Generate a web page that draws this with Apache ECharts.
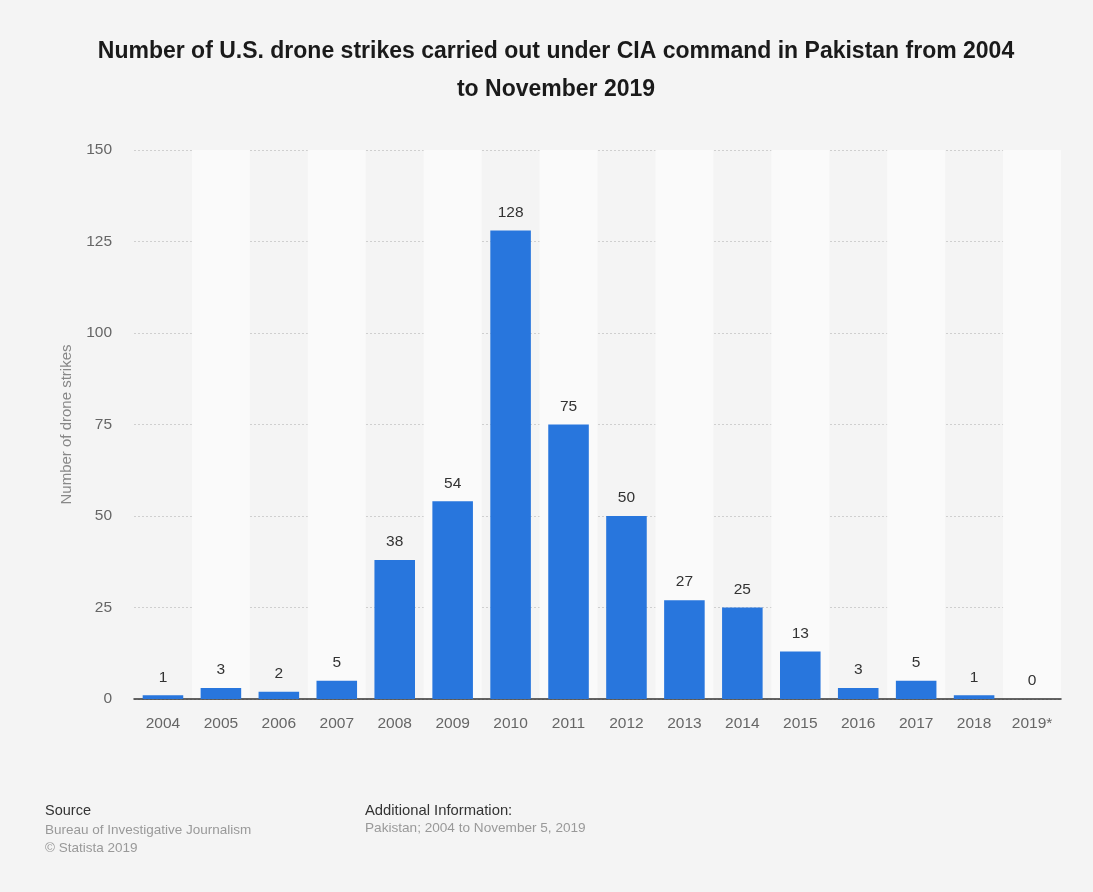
<!DOCTYPE html>
<html><head><meta charset="utf-8">
<script src="https://cdn.jsdelivr.net/npm/echarts@6/dist/echarts.min.js"></script>
<style>html,body{margin:0;padding:0;background:#f4f4f4;}#c{width:1093px;height:892px;}</style>
</head><body><div id="c"></div>
<script>
const categories = ['2004','2005','2006','2007','2008','2009','2010','2011','2012','2013','2014','2015','2016','2017','2018','2019*'];
const strikes = [1,3,2,5,38,54,128,75,50,27,25,13,3,5,1,0];
const yTicks = [0,25,50,75,100,125,150];
const font = '"Liberation Sans", Arial, Helvetica, sans-serif';
const chart = echarts.init(document.getElementById('c'));
chart.setOption({
  backgroundColor: '#f4f4f4',
  animation: false,
  textStyle: {fontFamily: font},
  title: [
    {text: 'Number of U.S. drone strikes carried out under CIA command in Pakistan from 2004\nto November 2019',
     left: 556, top: 33, textAlign: 'center', padding: 0,
     textStyle: {fontFamily: font, fontSize: 23, fontWeight: 'bold', color: '#1a1a1a', lineHeight: 38}},
    {text: 'Source', left: 45, top: 803, padding: 0, textStyle: {fontFamily: font, fontSize: 14.5, fontWeight: 'normal', color: '#333'}},
    {text: 'Bureau of Investigative Journalism\n© Statista 2019', left: 45, top: 821, padding: 0,
     textStyle: {fontFamily: font, fontSize: 13.5, fontWeight: 'normal', color: '#999', lineHeight: 18}},
    {text: 'Additional Information:', left: 365, top: 803, padding: 0, textStyle: {fontFamily: font, fontSize: 14.8, fontWeight: 'normal', color: '#333'}},
    {text: 'Pakistan; 2004 to November 5, 2019', left: 365, top: 821, padding: 0,
     textStyle: {fontFamily: font, fontSize: 13.6, fontWeight: 'normal', color: '#999'}}
  ],
  grid: {left: 134, right: 32, top: 150, bottom: 193, containLabel: false},
  xAxis: {
    type: 'category', data: categories,
    axisLine: {lineStyle: {color: '#333', width: 1.5}},
    axisTick: {show: false},
    axisLabel: {color: '#666', fontSize: 15.5, margin: 17, fontFamily: font},
    splitArea: {show: true, areaStyle: {color: ['rgba(0,0,0,0)', '#fafafa']}}
  },
  yAxis: {
    type: 'value', min: yTicks[0], max: yTicks[yTicks.length-1], interval: 25,
    name: 'Number of drone strikes', nameLocation: 'middle', nameGap: 60, nameRotate: 90,
    nameTextStyle: {color: '#888', fontSize: 15, fontFamily: font},
    axisLine: {show: false}, axisTick: {show: false},
    axisLabel: {color: '#666', fontSize: 15.5, margin: 22, fontFamily: font},
    splitLine: {lineStyle: {color: '#cfcfcf', type: [2, 2], width: 1}}
  },
  series: [{
    type: 'bar', data: strikes, barWidth: '70%',
    itemStyle: {color: '#2876dd'},
    label: {show: true, position: 'top', distance: 10, color: '#333', fontSize: 15.5, fontFamily: font}
  }]
});
</script></body></html>
